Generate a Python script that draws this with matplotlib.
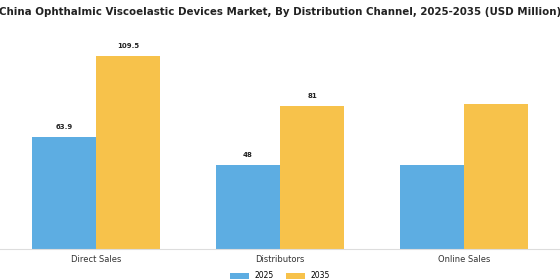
import matplotlib
matplotlib.use("Agg")
import matplotlib.pyplot as plt
import numpy as np

categories = ["Direct Sales", "Distributors", "Online Sales"]
series_names = ["2025", "2035"]
values_2025 = [63.9, 48, 47.6]
values_2035 = [109.5, 81, 82.2]
labels_2025 = ["63.9", "48", ""]
labels_2035 = ["109.5", "81", ""]

colors = ["#5DADE2", "#F7C24B"]

fig = plt.figure(figsize=(5.6, 2.8), dpi=100)
ax = fig.add_axes([0.0, 0.11, 1.0, 0.73])

x = np.arange(len(categories))
w = 0.348
b1 = ax.bar(x - w/2, values_2025, w, color=colors[0], label=series_names[0])
b2 = ax.bar(x + w/2, values_2035, w, color=colors[1], label=series_names[1])

for rect, lab in zip(b1, labels_2025):
    if lab:
        ax.text(rect.get_x() + rect.get_width()/2, rect.get_height() + 4, lab,
                ha="center", va="bottom", fontsize=5, fontweight="bold", color="#222222")
for rect, lab in zip(b2, labels_2035):
    if lab:
        ax.text(rect.get_x() + rect.get_width()/2, rect.get_height() + 4, lab,
                ha="center", va="bottom", fontsize=5, fontweight="bold", color="#222222")

ax.set_xlim(-0.522, 2.522)
ax.set_ylim(0, 116.0)
ax.set_xticks(x)
ax.set_xticklabels(categories, fontsize=6, color="#333333")
ax.tick_params(axis="x", length=0, pad=4)
ax.set_yticks([])
for s in ["top", "right", "left"]:
    ax.spines[s].set_visible(False)
ax.spines["bottom"].set_color("#dddddd")
ax.spines["bottom"].set_linewidth(0.8)

fig.text(0.5, 0.957, "China Ophthalmic Viscoelastic Devices Market, By Distribution Channel, 2025-2035 (USD Million)",
         ha="center", va="center", fontsize=7.4, fontweight="bold", color="#222222")

fig.legend(handles=[b1, b2], labels=series_names, loc="center", bbox_to_anchor=(0.5, 0.015),
           ncol=2, frameon=False, fontsize=5.5, handlelength=2.5, handleheight=0.8, columnspacing=1.5)

fig.savefig("out.png", dpi=100)
